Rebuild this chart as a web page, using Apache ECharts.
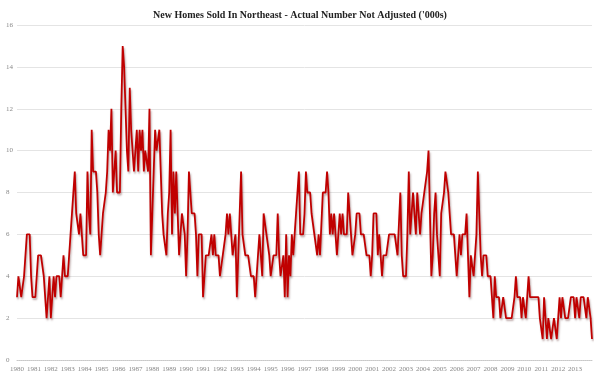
<!DOCTYPE html>
<html>
<head>
<meta charset="utf-8">
<script src="https://cdn.jsdelivr.net/npm/echarts@6/dist/echarts.min.js"></script>
<style>
  html, body { margin: 0; padding: 0; background: #fff; }
  #chart { width: 600px; height: 376px; }
</style>
</head>
<body>
<div id="chart"></div>
<script>
// new homes sold in the northeast, thousands, monthly, not seasonally adjusted
const sold1980s = [
  3,4,4,3,3,4,4,6,6,6,4,3,   // 1980
  3,3,3,5,5,5,5,4,3,2,3,4,   // 1981
  2,3,4,3,4,4,4,3,4,5,4,4,   // 1982
  4,5,6,7,7,9,7,7,6,7,6,5,   // 1983
  5,5,9,7,6,11,9,9,9,8,6,5,  // 1984
  6,7,7,8,9,11,10,12,8,8,10,8, // 1985
  8,8,12,15,14,12,10,9,13,11,10,9, // 1986
  10,11,9,11,10,11,9,10,10,9,12,5, // 1987
  7,9,11,10,10,11,9,7,6,6,5,7, // 1988
  8,11,6,9,7,9,7,5,6,7,7,6   // 1989
];
const sold1990s = [
  4,6,9,8,7,7,7,6,4,6,6,6,   // 1990
  3,3,5,5,5,5,6,5,6,5,5,5,   // 1991
  4,4,5,5,6,7,6,7,6,5,5,6,   // 1992
  3,5,7,9,6,6,5,5,5,5,4,4,   // 1993
  4,3,4,5,6,5,4,7,7,6,6,5,   // 1994
  4,4,5,5,5,7,5,4,4,5,3,6,   // 1995
  3,5,4,6,5,6,7,8,9,6,6,6,   // 1996
  7,9,8,8,8,7,7,6,6,5,6,5,   // 1997
  5,8,8,8,9,8,6,7,6,7,6,5,   // 1998
  5,7,6,7,6,6,6,8,7,6,5,5    // 1999
];
const sold2000s = [
  6,7,7,7,6,6,6,6,5,5,5,4,   // 2000
  5,7,7,7,5,6,5,4,5,5,5,5,   // 2001
  6,6,6,6,6,6,5,5,8,5,4,4,   // 2002
  4,6,9,6,7,8,8,6,8,8,6,7,   // 2003
  7,8,8,9,10,7,4,5,7,8,6,5,  // 2004
  4,7,7,8,9,9,8,8,6,6,6,5,   // 2005
  4,5,6,5,6,6,6,7,5,3,5,5,   // 2006
  4,4,6,9,7,5,4,5,5,5,4,4,   // 2007
  4,3,2,4,3,3,3,2,2,3,3,2,   // 2008
  2,2,2,2,2,3,4,3,3,3,2,3    // 2009
];
const sold2010s = [
  3,2,3,4,3,3,3,3,3,3,3,2,   // 2010
  2,1,3,2,1,2,2,1,1,2,2,1,   // 2011
  2,3,2,3,3,2,2,2,2,3,3,3,   // 2012
  2,3,3,2,3,3,3,3,2,3,3,2,   // 2013
  1                          // 2014
];
const yearLabels = [];
for (let y = 1980; y <= 2014; y++) yearLabels.push(String(y));
const lastTickYear = '2013';

const values = sold1980s.concat(sold1990s, sold2000s, sold2010s);
const months = [];
for (let i = 0; i < values.length; i++) {
  months.push(yearLabels[Math.floor(i / 12)] + '-' + (i % 12 + 1));
}

const chart = echarts.init(document.getElementById('chart'));
chart.setOption({
  animation: false,
  title: {
    text: "New Homes Sold In Northeast - Actual Number Not Adjusted ('000s)",
    left: 'center',
    top: 5,
    textStyle: {
      fontFamily: 'Liberation Serif',
      fontSize: 10,
      fontWeight: 'bold',
      color: '#222'
    }
  },
  grid: { left: 17, right: 8, top: 25, bottom: 16, containLabel: false },
  xAxis: {
    type: 'category',
    boundaryGap: false,
    data: months,
    axisTick: { show: false },
    axisLine: { lineStyle: { color: '#c8c8c8', type: 'dotted', width: 1 } },
    axisLabel: {
      interval: function (idx, val) {
        return idx % 12 === 0 && val.split('-')[0] <= lastTickYear;
      },
      formatter: function (val) { return val.split('-')[0]; },
      fontFamily: 'Liberation Serif',
      fontSize: 7,
      color: '#888',
      margin: 6
    },
    splitLine: { show: false }
  },
  yAxis: {
    type: 'value',
    min: 0,
    max: 16,
    interval: 2,
    axisLine: { show: false },
    axisTick: { show: false },
    axisLabel: {
      fontFamily: 'Liberation Serif',
      fontSize: 7,
      color: '#888',
      align: 'left',
      margin: 11
    },
    splitLine: { lineStyle: { color: '#e4e4e4', width: 1 } }
  },
  series: [
    {
      type: 'line',
      data: values,
      showSymbol: false,
      lineStyle: {
        color: '#c00000',
        width: 1.8,
        shadowColor: 'rgba(60,0,0,0.35)',
        shadowBlur: 2,
        shadowOffsetX: 1,
        shadowOffsetY: 2
      },
      itemStyle: { color: '#c00000' }
    }
  ]
});
</script>
</body>
</html>
